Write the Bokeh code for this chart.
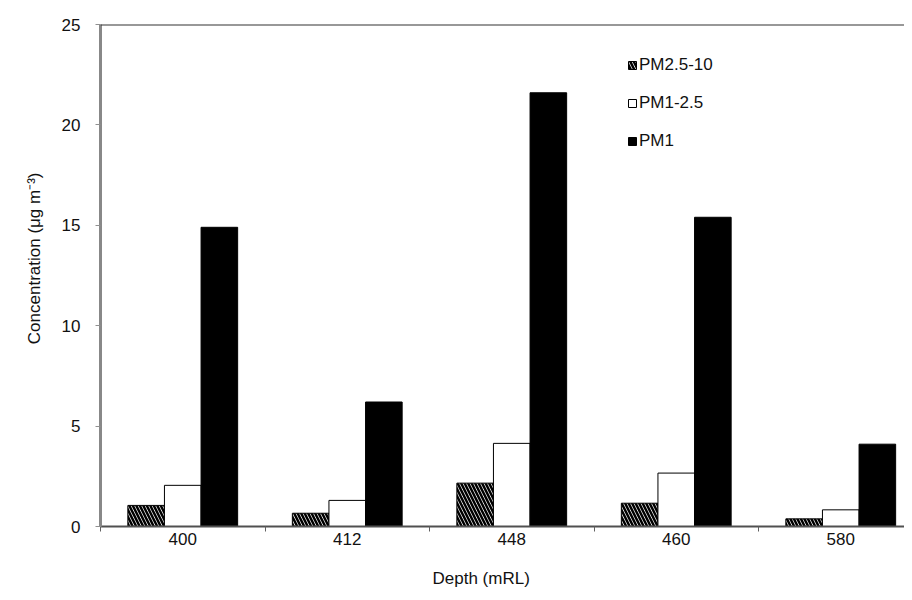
from bokeh.plotting import figure
from bokeh.models import (ColumnDataSource, Range1d, FixedTicker, Span, Legend, LegendItem, Title)
from bokeh.embed import file_html
from bokeh.resources import INLINE
from bokeh.transform import dodge

categories = ["400", "412", "448", "460", "580"]
pm25_10 = [1.05, 0.66, 2.16, 1.16, 0.38]
pm1_25 = [2.05, 1.30, 4.14, 2.66, 0.83]
pm1 = [14.9, 6.2, 21.6, 15.4, 4.1]
series_names = ["PM2.5-10", "PM1-2.5", "PM1"]
y_ticks = [0, 5, 10, 15, 20, 25]

FONT = "Liberation Sans"
FS = "17px"
centers = [i + 0.5 for i in range(len(categories))]
bw = 0.2225

src = ColumnDataSource(dict(
    x=centers,
    a=pm25_10,
    b=pm1_25,
    c=pm1,
))

p = figure(width=904, height=592, output_backend="svg", toolbar_location=None,
           x_range=Range1d(0, 804 / 164.5), y_range=Range1d(0, 25),
           min_border_left=100, min_border_right=0, min_border_top=24, min_border_bottom=66)
p.outline_line_color = None
p.xgrid.visible = False
p.ygrid.visible = False
p.background_fill_color = "white"
p.border_fill_color = "white"

r1 = p.vbar(x=dodge("x", -bw, range=p.x_range), top="a", width=bw, source=src,
            fill_color="white", line_color="black", line_width=1,
            hatch_pattern="left_diagonal_line", hatch_color="black",
            hatch_scale=7, hatch_weight=2.5)
r2 = p.vbar(x=dodge("x", 0, range=p.x_range), top="b", width=bw, source=src,
            fill_color="white", line_color="black", line_width=1)
r3 = p.vbar(x=dodge("x", bw, range=p.x_range), top="c", width=bw, source=src,
            fill_color="black", line_color="black", line_width=1)

# top border
p.add_layout(Span(location=25, dimension="width", line_color="#333333", line_width=2))

# x axis
xa = p.xaxis[0]
xa.ticker = FixedTicker(ticks=centers, minor_ticks=list(range(len(categories) + 1)))
xa.major_label_overrides = {c: lab for c, lab in zip(centers, categories)}
xa.major_tick_out = 0
xa.major_tick_in = 0
xa.minor_tick_out = 5
xa.minor_tick_in = 0
xa.minor_tick_line_color = "#606060"
xa.axis_line_color = "#505050"
xa.axis_line_width = 2
xa.major_label_text_font = FONT
xa.major_label_text_font_size = FS
xa.major_label_text_color = "#111111"
xa.major_label_standoff = 1

# y axis
ya = p.yaxis[0]
ya.ticker = FixedTicker(ticks=y_ticks)
ya.minor_tick_line_color = None
ya.major_tick_out = 5
ya.major_tick_in = 0
ya.major_tick_line_color = "#909090"
ya.axis_line_color = "#888888"
ya.axis_line_width = 3
ya.major_label_text_font = FONT
ya.major_label_text_font_size = FS
ya.major_label_text_color = "#111111"
ya.major_label_standoff = 15

# axis titles
ytitle = Title(text="Concentration (\u03bcg m\u207b\u00b3)", align="right", offset=148,
               text_font=FONT, text_font_size=FS, text_font_style="normal",
               text_color="#111111", standoff=30)
p.add_layout(ytitle, "left")
xtitle = Title(text="Depth (mRL)", align="left", offset=332,
               text_font=FONT, text_font_size=FS, text_font_style="normal",
               text_color="#111111", standoff=1,
               padding=dict(top=19, right=0, bottom=0, left=0))
p.add_layout(xtitle, "below")

legend = Legend(items=[
    LegendItem(label=series_names[0], renderers=[r1]),
    LegendItem(label=series_names[1], renderers=[r2]),
    LegendItem(label=series_names[2], renderers=[r3]),
], location=(527, 375), orientation="vertical")
legend.glyph_width = 10
legend.glyph_height = 10
legend.label_standoff = 2
legend.spacing = 18
legend.padding = 0
legend.margin = 0
legend.border_line_color = None
legend.background_fill_alpha = 0
legend.label_text_font = FONT
legend.label_text_font_size = FS
legend.label_text_color = "#111111"
legend.label_height = 20
p.add_layout(legend)

open("out.html", "w").write(file_html(p, INLINE))
